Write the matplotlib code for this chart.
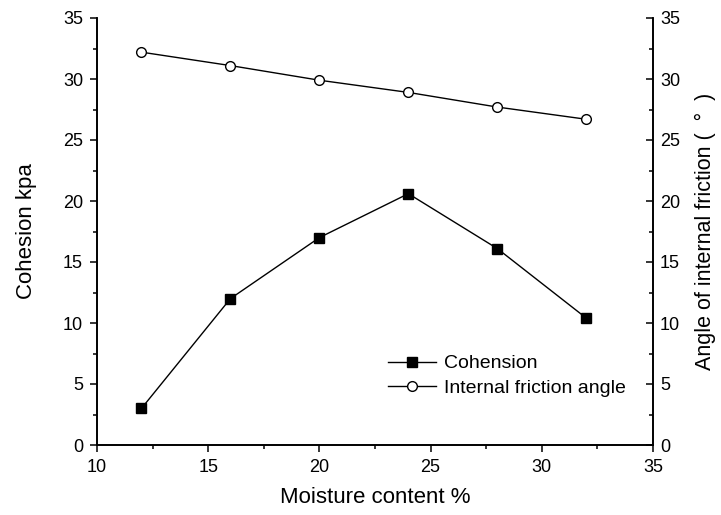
import matplotlib
matplotlib.use("Agg")
import matplotlib.pyplot as plt
from matplotlib.ticker import MultipleLocator

plt.rcParams['font.family'] = ['Liberation Sans', 'DejaVu Sans']

moisture = [12, 16, 20, 24, 28, 32]
cohesion = [3.0, 12.0, 17.0, 20.6, 16.1, 10.4]
friction_angle = [32.2, 31.1, 29.9, 28.9, 27.7, 26.7]

fig = plt.figure(figsize=(7.21, 5.15), dpi=100)
ax = fig.add_axes([97/721, 1-445/515, (653-97)/721, (445-18)/515])
ax2 = ax.twinx()

l1, = ax.plot(moisture, cohesion, color='black', lw=1.0, marker='s', ms=7,
              mfc='black', mec='black', label='Cohension')
l2, = ax2.plot(moisture, friction_angle, color='black', lw=1.0, marker='o', ms=7,
               mfc='white', mec='black', mew=1.0, label='Internal friction angle')

for a in (ax, ax2):
    a.set_xlim(10, 35)
    a.set_ylim(0, 35)
    a.yaxis.set_major_locator(MultipleLocator(5))
    a.yaxis.set_minor_locator(MultipleLocator(2.5))
    a.spines['top'].set_visible(False)
    for s in a.spines.values():
        s.set_linewidth(1.2)

ax.xaxis.set_major_locator(MultipleLocator(5))
ax.xaxis.set_minor_locator(MultipleLocator(2.5))
ax.tick_params(which='major', direction='out', length=5, width=1.1, labelsize=13, pad=5)
ax.tick_params(which='minor', direction='out', length=3, width=1.1)
ax.tick_params(axis='y', right=False)
ax.tick_params(axis='x', top=False)

ax2.tick_params(which='major', direction='in', length=5, width=1.1, labelsize=13, pad=5)
ax2.tick_params(which='minor', direction='in', length=3, width=1.1)

ax.set_xlabel('Moisture content %', fontsize=16, labelpad=8)
ax.set_ylabel('Cohesion kpa', fontsize=16, labelpad=19)
ax2.set_ylabel('Angle of internal friction (  °  )', fontsize=15.5, labelpad=11)

ax.legend(handles=[l1, l2], loc='center left', bbox_to_anchor=(0.523, 0.162),
          frameon=False, fontsize=14, handlelength=2.5, handletextpad=0.4,
          labelspacing=0.35, borderpad=0, borderaxespad=0)

fig.savefig('out.png', dpi=100)
